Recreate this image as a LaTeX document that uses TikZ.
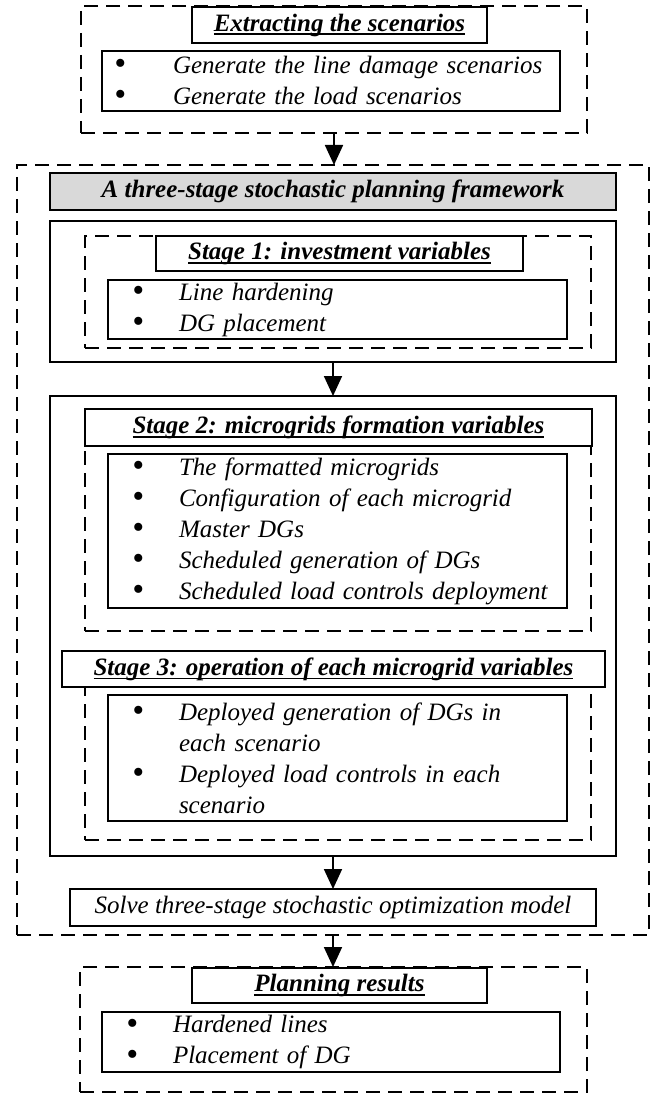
\documentclass[tikz,border=0pt]{standalone}
\usepackage{fontspec}
\usepackage{graphicx}
\setmainfont{Liberation Serif}
\usetikzlibrary{arrows.meta}
\definecolor{greyfill}{RGB}{217,217,217}
\newcommand{\myul}[1]{\setbox0\hbox{#1}\rlap{\rule[-4pt]{\wd0}{1.6pt}}\box0}
\newcommand{\mybul}{\raisebox{-1.5pt}{\scalebox{1.35}{\textbullet}}}
\newcommand{\bitem}[2][60pt]{\makebox[#1]{\mybul}\hspace{\dimexpr71pt-#1\relax}#2}
\newcommand{\bcont}[1]{\hspace*{71pt}#1}
\begin{document}
\begin{tikzpicture}[x=1pt,y=-1pt,
  frame/.style={draw, line width=1.8pt, rectangle, inner sep=0pt, outer sep=0pt, anchor=north west},
  dashframe/.style={frame, dash pattern=on 14pt off 8pt},
  titlebox/.style={frame, fill=white, font=\fontsize{25}{31}\selectfont\bfseries\itshape},
  itembox/.style={frame, fill=white, align=left, text width=#1, font=\fontsize{25}{31}\selectfont\itshape},
  plainbox/.style={frame, fill=white, font=\fontsize{25}{31}\selectfont\itshape},
  link/.style={line width=1.8pt, -{Triangle[width=18pt,length=20pt]}}
]
\useasboundingbox (0,0) rectangle (653,1094);

% top group
\node[dashframe, minimum width=506, minimum height=127] (topdash) at (81,6) {};
\node[titlebox, minimum width=295, minimum height=36] (toptitle) at (192,7) {\myul{Extracting the scenarios}};
\node[itembox=458pt, minimum height=60] (topitems) at (102,51)
  {\bitem[36pt]{Generate the line damage scenarios}\\\bitem[36pt]{Generate the load scenarios}};

% outer framework
\node[dashframe, minimum width=632, minimum height=770] (outer) at (17,165) {};
\node[frame, fill=greyfill, minimum width=566, minimum height=37, font=\fontsize{25}{31}\selectfont\bfseries\itshape] (grey) at (50,173) {A three-stage stochastic planning framework};

% stage 1
\node[frame, minimum width=566, minimum height=141] (solid1) at (50,221) {};
\node[dashframe, minimum width=506, minimum height=112] (s1dash) at (85,236) {};
\node[titlebox, minimum width=367, minimum height=35] (s1title) at (156,236) {\myul{Stage 1: investment variables}};
\node[itembox=459pt, minimum height=59] (s1items) at (108,280)
  {\bitem{Line hardening}\\\bitem{DG placement}};

% stage 2 and 3
\node[frame, minimum width=566, minimum height=460] (solid2) at (50,396) {};
\node[dashframe, minimum width=506, minimum height=222] (s2dash) at (85,409) {};
\node[titlebox, minimum width=507, minimum height=37] (s2title) at (85,409) {\myul{Stage 2: microgrids formation variables}};
\node[itembox=459pt, minimum height=154] (s2items) at (108,454)
  {\bitem{The formatted microgrids}\\\bitem{Configuration of each microgrid}\\\bitem{Master DGs}\\\bitem{Scheduled generation of DGs}\\\bitem{Scheduled load controls deployment}};

\node[dashframe, minimum width=506, minimum height=189] (s3dash) at (85,651) {};
\node[titlebox, minimum width=543, minimum height=36] (s3title) at (62,651) {\myul{Stage 3: operation of each microgrid variables}};
\node[itembox=459pt, minimum height=126] (s3items) at (108,695)
  {\bitem{Deployed generation of DGs in}\\\bcont{each scenario}\\\bitem{Deployed load controls in each}\\\bcont{scenario}};

\node[plainbox, minimum width=526, minimum height=37] (solve) at (70,889) {Solve three-stage stochastic optimization model};

% bottom group
\node[dashframe, minimum width=507, minimum height=125] (botdash) at (80,967) {};
\node[titlebox, minimum width=295, minimum height=35] (bottitle) at (192,968) {\myul{Planning results}};
\node[itembox=458pt, minimum height=60] (botitems) at (102,1012)
  {\bitem{Hardened lines}\\\bitem{Placement of DG}};

% connectors
\draw[link] (topdash.south) -- (topdash.south |- outer.north);
\draw[link] (solid1.south) -- (solid2.north);
\draw[link] (solid2.south) -- (solid2.south |- solve.north);
\draw[link] (outer.south) -- (outer.south |- botdash.north);
\end{tikzpicture}
\end{document}
